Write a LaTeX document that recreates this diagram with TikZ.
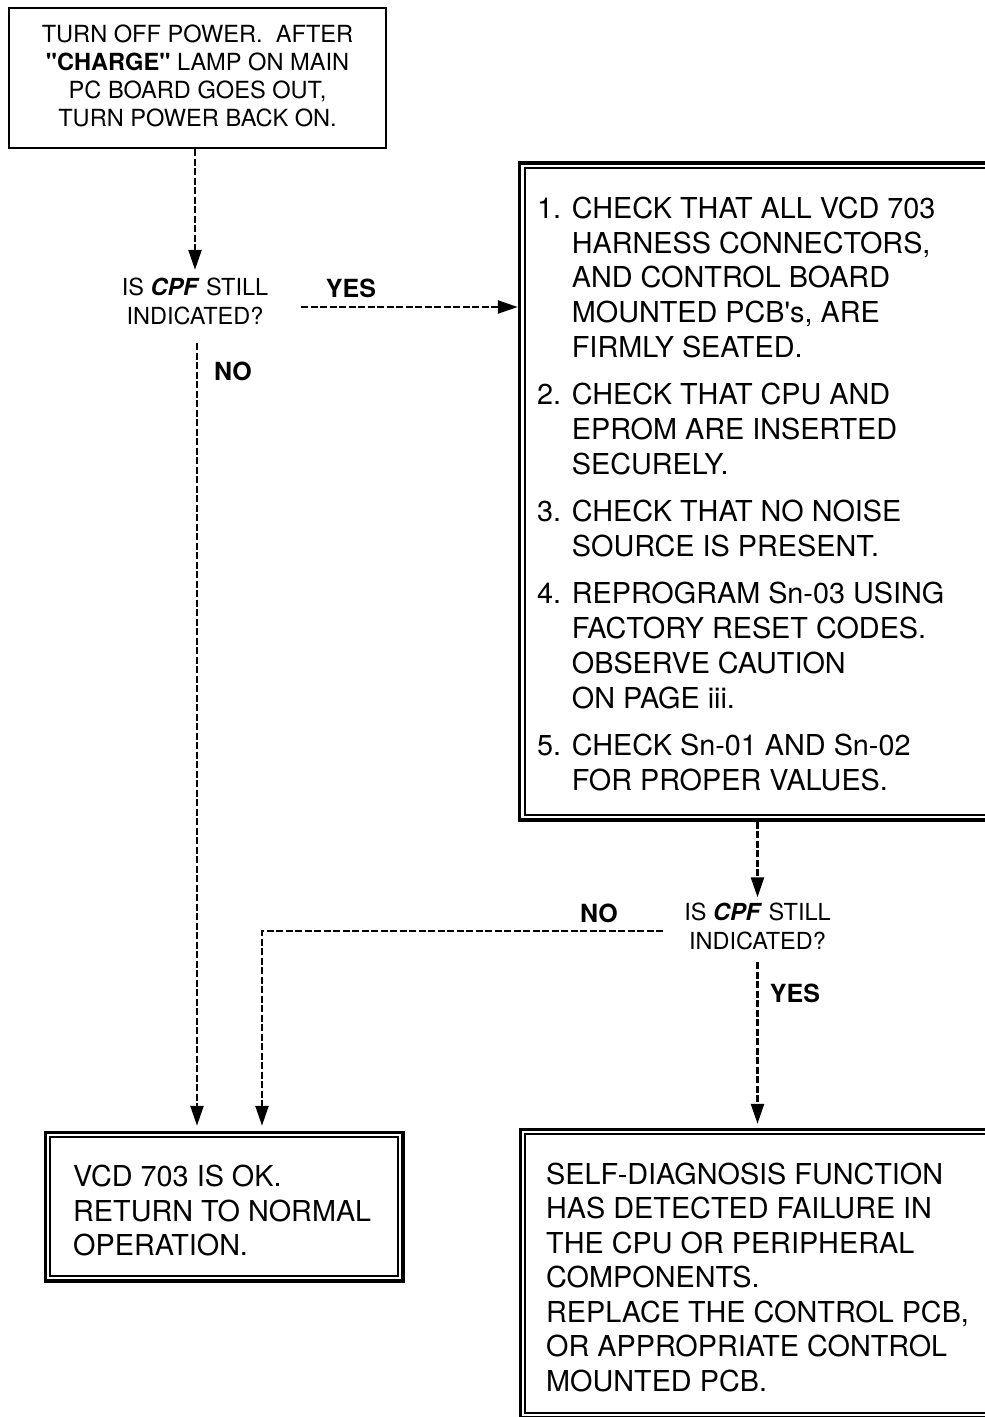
\documentclass[tikz,border=0pt]{standalone}
\usepackage{fontspec}
\setmainfont{TeX Gyre Heros}[Ligatures=TeXOff]
\usetikzlibrary{arrows.meta}
\begin{document}
\begin{tikzpicture}[x=1pt,y=-1pt,
 sbox/.style={draw, line width=2.2pt, inner sep=0pt},
 dbox/.style={draw, line width=3.5pt, inner sep=0pt},
 inbox/.style={line width=1.6pt},
 txt/.style={inner sep=0pt, align=left, anchor=north west, font=\fontsize{28.8}{34.8}\selectfont},
 toptxt/.style={inner sep=0pt, align=center, anchor=north, font=\fontsize{23.6}{28}\selectfont},
 ques/.style={inner sep=0pt, align=center, font=\fontsize{23.5}{29}\selectfont},
 lbl/.style={inner sep=0pt, font=\bfseries\fontsize{25}{30}\selectfont},
 arr/.style={line width=2.5pt, dash pattern=on 7pt off 2.5pt, -{Triangle[length=20pt,width=13pt]}},
]
\useasboundingbox (0,0) rectangle (985,1417);
\clip (0,0) rectangle (985,1417);

% boxes
\node[sbox, minimum width=377pt, minimum height=140pt] (top) at (197.5,78) {};
\node[dbox, minimum width=480.5pt, minimum height=657pt] (big) at (759.75,491.5) {};
\node[dbox, minimum width=357.5pt, minimum height=148.5pt] (ok) at (224.25,1206.75) {};
\node[dbox, minimum width=479.5pt, minimum height=288pt] (fail) at (760.25,1273.5) {};
\draw[inbox] ([shift={(7,7)}]big.north west) rectangle ([shift={(-7,-7)}]big.south east);
\draw[inbox] ([shift={(6.5,6.5)}]ok.north west) rectangle ([shift={(-6.5,-6.5)}]ok.south east);
\draw[inbox] ([shift={(6,6)}]fail.north west) rectangle ([shift={(-6,-6)}]fail.south east);

% texts
\node[toptxt] (toptext) at (197.5,24.5) {TURN OFF POWER.\ \ AFTER\\\textbf{"CHARGE"} LAMP ON MAIN\\PC BOARD GOES OUT,\\TURN POWER BACK ON.};
\node[txt] (bigtext) at (537,196.6) {1. CHECK THAT ALL VCD 703\\
\hphantom{1. }HARNESS CONNECTORS,\\
\hphantom{1. }AND CONTROL BOARD\\
\hphantom{1. }MOUNTED PCB's, ARE\\
\hphantom{1. }FIRMLY SEATED.\\[12.5pt]
2. CHECK THAT CPU AND\\
\hphantom{2. }EPROM ARE INSERTED\\
\hphantom{2. }SECURELY.\\[12.5pt]
3. CHECK THAT NO NOISE\\
\hphantom{3. }SOURCE IS PRESENT.\\[12.5pt]
4. REPROGRAM Sn-03 USING\\
\hphantom{4. }FACTORY RESET CODES.\\
\hphantom{4. }OBSERVE CAUTION\\
\hphantom{4. }ON PAGE iii.\\[12.5pt]
5. CHECK Sn-01 AND Sn-02\\
\hphantom{5. }FOR PROPER VALUES.};
\node[txt] (oktext) at (73,1164.6) {VCD 703 IS OK.\\RETURN TO NORMAL\\OPERATION.};
\node[txt, font=\fontsize{28.8}{34.5}\selectfont] (failtext) at (546,1162.6) {SELF-DIAGNOSIS FUNCTION\\HAS DETECTED FAILURE IN\\THE CPU OR PERIPHERAL\\COMPONENTS.\\REPLACE THE CONTROL PCB,\\OR APPROPRIATE CONTROL\\MOUNTED PCB.};

% questions
\node[ques] (q1) at (195,301.5) {IS \textbf{\textit{CPF}} STILL\\INDICATED?};
\node[ques] (q2) at (757.5,926.5) {IS \textbf{\textit{CPF}} STILL\\INDICATED?};

% labels
\node[lbl] (lyes1) at (351,288) {YES};
\node[lbl] (lno1) at (233,371) {NO};
\node[lbl] (lno2) at (599,913) {NO};
\node[lbl] (lyes2) at (795,993) {YES};

% connector anchors
\coordinate (ok1) at ([xshift=-27.25pt]ok.north);
\coordinate (ok2) at ([xshift=37.75pt]ok.north);
\coordinate (n1) at (197,343);
\coordinate (y1) at (301,307);
\coordinate (n2) at (663,931);

% connectors
\draw[arr, shorten >=8pt] (q1.north |- top.south) -- (q1.north);
\draw[arr] (y1) -- (y1 -| big.west);
\draw[arr, shorten >=5pt] (n1) -- (ok1);
\draw[arr, shorten >=5.5pt] (q2.north |- big.south) -- (q2.north);
\draw[arr, shorten >=5pt] (n2) -| (ok2);
\draw[arr, shorten <=12pt, shorten >=4pt] (q2.south) -- (q2.south |- fail.north);
\end{tikzpicture}
\end{document}
